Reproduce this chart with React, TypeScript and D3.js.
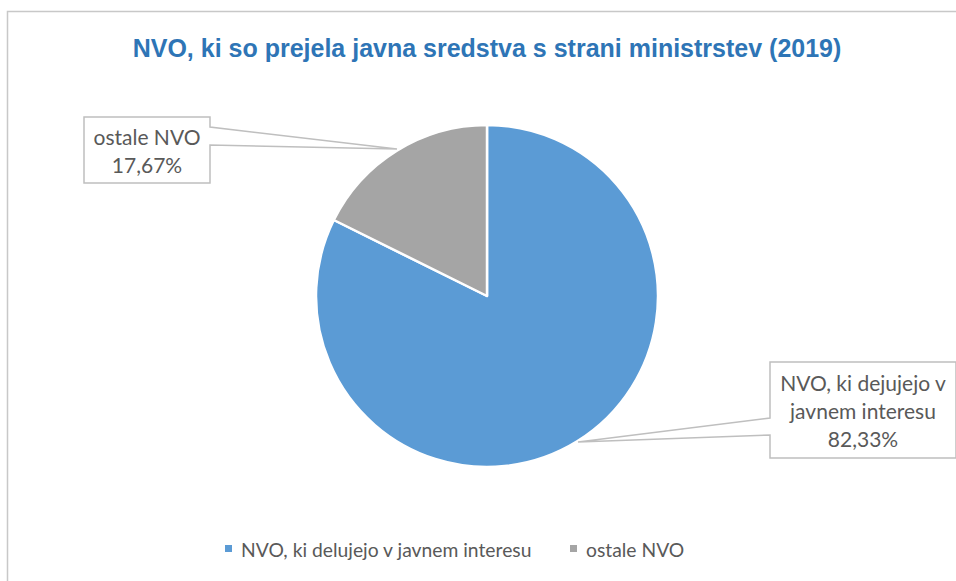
import React from "react";
import * as d3 from "d3";

const categories = ["NVO, ki delujejo v javnem interesu", "ostale NVO"];
const values = [82.33, 17.67];
const labelLines = [["NVO, ki dejujejo v", "javnem interesu", "82,33%"], ["ostale NVO", "17,67%"]];
const colors = ["#5B9BD5", "#A5A5A5"];
const title = "NVO, ki so prejela javna sredstva s strani ministrstev (2019)";

const W = 956, H = 581;
const cx = 487, cy = 296, R = 171;
const FONT = "Lato, 'Noto Sans', sans-serif";

export default function App() {
  const pie = d3.pie<number>().sort(null).value((d) => d)(values);
  const arc = d3.arc<d3.PieArcDatum<number>>().innerRadius(0).outerRadius(R);

  const boxes = [
    { x: 770, y: 362, w: 186, h: 96, side: "left", a1: 418, a2: 435, tip: [578, 442], t0: 391 },
    { x: 84, y: 117, w: 126, h: 66, side: "right", a1: 127, a2: 145, tip: [397, 149], t0: 145 },
  ];

  const calloutPath = (b: any) => {
    const { x, y, w, h } = b;
    const [tx, ty] = b.tip;
    if (b.side === "left") {
      return `M${x},${y} L${x + w},${y} L${x + w},${y + h} L${x},${y + h} L${x},${b.a2} L${tx},${ty} L${x},${b.a1} Z`;
    }
    return `M${x},${y} L${x + w},${y} L${x + w},${b.a1} L${tx},${ty} L${x + w},${b.a2} L${x + w},${y + h} L${x},${y + h} Z`;
  };

  const legendX = [225, 570];

  return (
    <svg width={W} height={H} style={{ position: "absolute", left: 0, top: 0 }}>
      <rect x={7.5} y={11.5} width={W + 20} height={H + 20} fill="#fff" stroke="#C8C8C8" strokeWidth={1.5} />
      <text x={487} y={57} textAnchor="middle" fontFamily="Arial, 'Liberation Sans', sans-serif" fontWeight="bold" fontSize={25} fill="#2E75B6">
        {title}
      </text>
      <g transform={`translate(${cx},${cy})`}>
        {pie.map((p, i) => (
          <path key={i} d={arc(p) || ""} fill={colors[i]} stroke="#fff" strokeWidth={2.5} strokeLinejoin="round" />
        ))}
      </g>
      {boxes.map((b, i) => (
        <g key={i}>
          <path d={calloutPath(b)} fill="#fff" stroke="#BFBFBF" strokeWidth={1.5} />
          {labelLines[i].map((t, j) => (
            <text key={j} x={b.x + b.w / 2} y={b.t0 + j * 28} textAnchor="middle" fontFamily={FONT} fontSize={21} fill="#595959">
              {t}
            </text>
          ))}
        </g>
      ))}
      {categories.map((c, i) => (
        <g key={c}>
          <rect x={legendX[i]} y={545} width={7} height={7} fill={colors[i]} />
          <text x={legendX[i] + 16} y={557} fontFamily={FONT} fontSize={19.3} fill="#595959">
            {c}
          </text>
        </g>
      ))}
    </svg>
  );
}
